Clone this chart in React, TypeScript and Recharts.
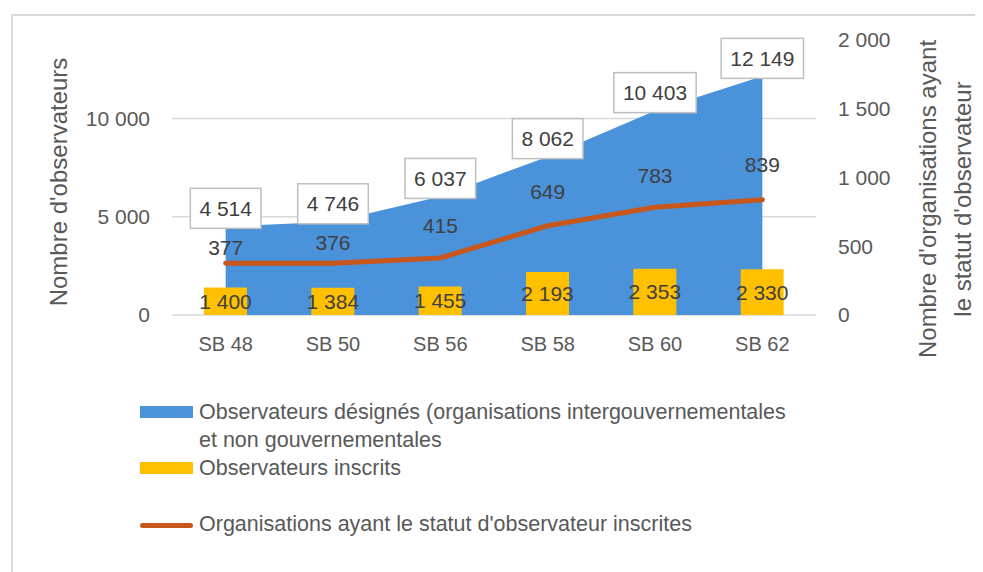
import React from 'react';
import { ComposedChart, Area, Bar, Line, XAxis, YAxis, CartesianGrid } from 'recharts';

const sessions = ['SB 48', 'SB 50', 'SB 56', 'SB 58', 'SB 60', 'SB 62'];
const designated = [4514, 4746, 6037, 8062, 10403, 12149];
const registered = [1400, 1384, 1455, 2193, 2353, 2330];
const organisations = [377, 376, 415, 649, 783, 839];

const leftTicks = [0, 5000, 10000];
const rightTicks = [0, 500, 1000, 1500, 2000];
const leftMax = 14000;
const rightMax = 2000;

// how far each line label sits above its point (hand placed in the original)
const lineLabelLift = [16, 21, 32, 34, 32, 35];

const seriesNames = {
  designated: 'Observateurs désignés (organisations intergouvernementales\net non gouvernementales',
  registered: 'Observateurs inscrits',
  organisations: "Organisations ayant le statut d'observateur inscrites",
};

const data = sessions.map((s, i) => ({
  session: s,
  designated: designated[i],
  registered: registered[i],
  organisations: organisations[i],
}));

const BLUE = '#4A92DA';
const YELLOW = '#FFC000';
const ORANGE = '#C9561B';
const TEXT = '#595959';
const LABEL = '#404040';

const MARGIN = { top: 32, right: 20, left: 20, bottom: 217 };
const CHART_H = 564;
const X_AXIS_H = 40;

const fmt = (v: number) => String(v).replace(/\B(?=(\d{3})+(?!\d))/g, ' ');

const textWidth = (s: string) =>
  s.split('').reduce((w, c) => w + (c === ' ' ? 5.8 : 11.7), 0);

const BoxLabel = (props: any) => {
  const { x, y, value } = props;
  if (x == null || y == null) return null;
  const txt = fmt(value);
  const w = textWidth(txt) + 18;
  const h = 40;
  return (
    <g>
      <rect x={x - w / 2} y={y + 2 - h} width={w} height={h} fill="#fff" stroke="#BFBFBF" strokeWidth={1.5} />
      <text x={x} y={y + 2 - h / 2} textAnchor="middle" dominantBaseline="central" fontSize={21} fill={LABEL}>
        {txt}
      </text>
    </g>
  );
};

const LineLabel = (props: any) => {
  const { x, y, value, index } = props;
  if (x == null || y == null) return null;
  return (
    <text x={x} y={y - (lineLabelLift[index] ?? 20)} textAnchor="middle" dominantBaseline="central" fontSize={21} fill={LABEL}>
      {fmt(value)}
    </text>
  );
};

const BarLabel = (props: any) => {
  const { x, y, width, height, value } = props;
  if (x == null) return null;
  return (
    <text x={x + width / 2} y={y + height / 2} textAnchor="middle" dominantBaseline="central" fontSize={21} fill={LABEL}>
      {fmt(value)}
    </text>
  );
};

const LeftTitle = (props: any) => {
  const { viewBox } = props;
  const cx = viewBox.x + 30;
  const cy = 174;
  return (
    <text x={cx} y={cy} transform={`rotate(-90 ${cx} ${cy})`} textAnchor="middle" dominantBaseline="central" fontSize={24} fill={TEXT}>
      Nombre d'observateurs
    </text>
  );
};

const RightTitle = (props: any) => {
  const { viewBox } = props;
  const cx = viewBox.x + 128;
  const cy = 191;
  return (
    <text transform={`rotate(-90 ${cx} ${cy})`} textAnchor="middle" dominantBaseline="central" fontSize={24} fill={TEXT}>
      <tspan x={cx} y={cy - 17.5}>Nombre d'organisations ayant</tspan>
      <tspan x={cx} y={cy + 17.5}>le statut d'observateur</tspan>
    </text>
  );
};

// gridlines only at the left axis ticks
const gridRows = (args: any) => {
  const top = args?.offset?.top ?? MARGIN.top;
  const h = args?.offset?.height ?? CHART_H - MARGIN.top - MARGIN.bottom - X_AXIS_H;
  return leftTicks.map((t) => top + h * (1 - t / leftMax));
};

const legendItems = [
  { key: 'designated', kind: 'rect', color: BLUE, top: 398 },
  { key: 'registered', kind: 'rect', color: YELLOW, top: 454 },
  { key: 'organisations', kind: 'line', color: ORANGE, top: 510 },
];

const ChartLegend = () => (
  <div style={{ position: 'absolute', left: 0, top: 0 }}>
    {legendItems.map((it) => {
      const lines = (seriesNames as any)[it.key].split('\n');
      return (
        <div key={it.key}>
          {it.kind === 'rect' ? (
            <div style={{ position: 'absolute', left: 132, top: it.top, width: 53, height: 12, background: it.color }} />
          ) : (
            <div style={{ position: 'absolute', left: 132, top: it.top + 5, width: 53, height: 5, borderRadius: 3, background: it.color }} />
          )}
          {lines.map((l: string, j: number) => (
            <div
              key={j}
              style={{
                position: 'absolute',
                left: 191,
                top: it.top - 8 + j * 28,
                fontSize: 21.5,
                lineHeight: '28px',
                color: TEXT,
                whiteSpace: 'nowrap',
              }}
            >
              {l}
            </div>
          ))}
        </div>
      );
    })}
  </div>
);

export default function App() {
  return (
    <div
      style={{
        position: 'relative',
        width: 975,
        height: 564,
        overflow: 'hidden',
        fontFamily: '"Liberation Sans", Arial, sans-serif',
        background: '#fff',
      }}
    >
      <div
        style={{
          position: 'absolute',
          left: 3,
          top: 6,
          width: 1100,
          height: 700,
          border: '2px solid #D9D9D9',
        }}
      />
      <ComposedChart width={975} height={CHART_H} data={data} margin={MARGIN}>
        <CartesianGrid
          yAxisId="left"
          vertical={false}
          stroke="#D9D9D9"
          strokeWidth={1.5}
          horizontalCoordinatesGenerator={gridRows}
        />
        <XAxis
          dataKey="session"
          height={X_AXIS_H}
          axisLine={false}
          tickLine={false}
          tickMargin={16}
          tick={{ fontSize: 20, fill: TEXT }}
        />
        <YAxis
          yAxisId="left"
          width={144}
          domain={[0, leftMax]}
          ticks={leftTicks}
          tickFormatter={fmt}
          axisLine={false}
          tickLine={false}
          tickMargin={16}
          tick={{ fontSize: 21, fill: TEXT }}
          label={{ content: LeftTitle }}
        />
        <YAxis
          yAxisId="right"
          orientation="right"
          width={147}
          domain={[0, rightMax]}
          ticks={rightTicks}
          tickFormatter={fmt}
          axisLine={false}
          tickLine={false}
          tickMargin={16}
          tick={{ fontSize: 21, fill: TEXT, textAnchor: 'start' }}
          label={{ content: RightTitle }}
        />
        <Area
          yAxisId="left"
          type="linear"
          dataKey="designated"
          name={seriesNames.designated}
          fill={BLUE}
          fillOpacity={1}
          stroke="none"
          isAnimationActive={false}
          label={BoxLabel}
        />
        <Bar
          yAxisId="left"
          dataKey="registered"
          name={seriesNames.registered}
          fill={YELLOW}
          barSize={43}
          isAnimationActive={false}
          label={BarLabel}
        />
        <Line
          yAxisId="right"
          type="linear"
          dataKey="organisations"
          name={seriesNames.organisations}
          stroke={ORANGE}
          strokeWidth={5}
          strokeLinecap="round"
          dot={false}
          activeDot={false}
          isAnimationActive={false}
          label={LineLabel}
        />
      </ComposedChart>
      <ChartLegend />
    </div>
  );
}
